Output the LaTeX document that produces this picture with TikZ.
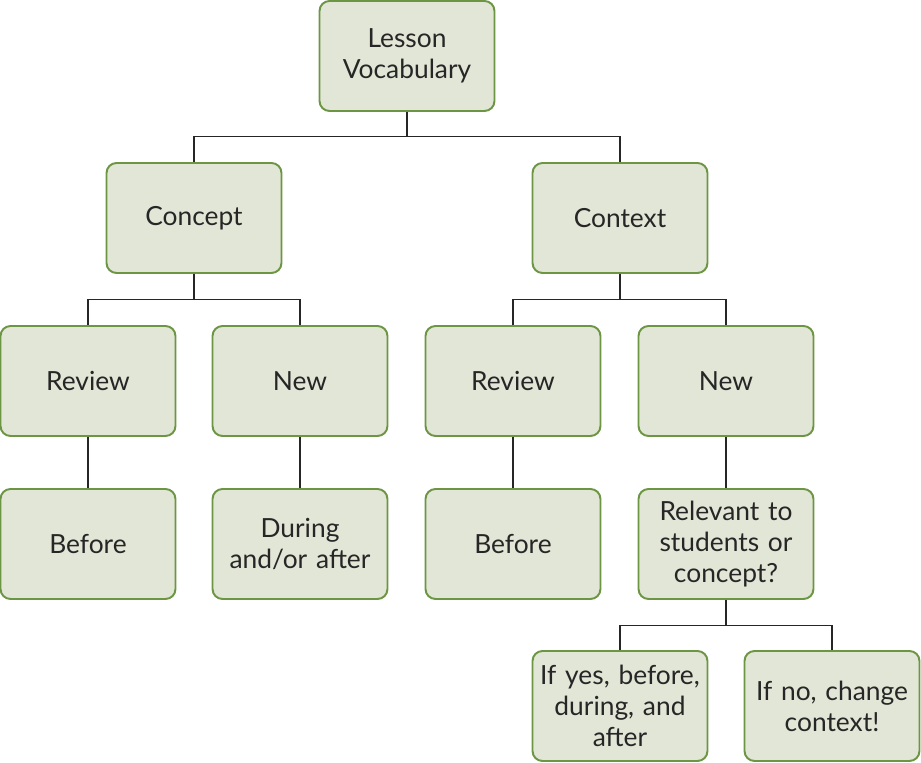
\documentclass[tikz,border=0pt]{standalone}
\usepackage{fontspec}
\setmainfont{Lato}
\definecolor{boxfill}{RGB}{226,230,214}
\definecolor{boxline}{RGB}{108,150,68}
\tikzset{
  vocbox/.style={draw=boxline,fill=boxfill,line width=1.1pt,rounded corners=0.2cm,
    minimum width=3.5cm,minimum height=2.2cm,text width=3.2cm,align=center,
    font=\fontsize{15}{17.6}\selectfont,text=black!85},
  link/.style={draw=black!85,line width=0.6pt}
}
\begin{document}
\begin{tikzpicture}[x=0.02cm,y=-0.02cm]
      \useasboundingbox (0,0) rectangle (921,763);
      % top
      \node[vocbox] (lesson) at (407,56) {Lesson\\Vocabulary};
      \node[vocbox] (concept) at (194,218) {Concept};
      \node[vocbox] (context) at (620,218) {Context};
      % third row
      \node[vocbox] (creview) at (88,381) {Review};
      \node[vocbox] (cnew) at (300,381) {New};
      \node[vocbox] (xreview) at (513,381) {Review};
      \node[vocbox] (xnew) at (726,381) {New};
      % fourth row
      \node[vocbox] (cbefore) at (88,544) {Before};
      \node[vocbox] (cduring) at (300,544) {During\\and/or after};
      \node[vocbox] (xbefore) at (513,544) {Before};
      \node[vocbox] (relevant) at (726,544) {Relevant to\\students or\\concept?};
      % answers
      \node[vocbox] (ifyes) at (620,706) {If yes, before,\\during, and\\after};
      \node[vocbox] (ifno) at (832,706) {If no, change\\context!};
      % connectors
      \draw[link] (lesson.south) -- ++(0,25) -| (concept.north);
      \draw[link] (lesson.south) -- ++(0,25) -| (context.north);
      \draw[link] (concept.south) -- ++(0,26) -| (creview.north);
      \draw[link] (concept.south) -- ++(0,26) -| (cnew.north);
      \draw[link] (context.south) -- ++(0,26) -| (xreview.north);
      \draw[link] (context.south) -- ++(0,26) -| (xnew.north);
      \draw[link] (creview) -- (cbefore);
      \draw[link] (cnew) -- (cduring);
      \draw[link] (xreview) -- (xbefore);
      \draw[link] (xnew) -- (relevant);
      \draw[link] (relevant.south) -- ++(0,26) -| (ifyes.north);
      \draw[link] (relevant.south) -- ++(0,26) -| (ifno.north);
\end{tikzpicture}
\end{document}
